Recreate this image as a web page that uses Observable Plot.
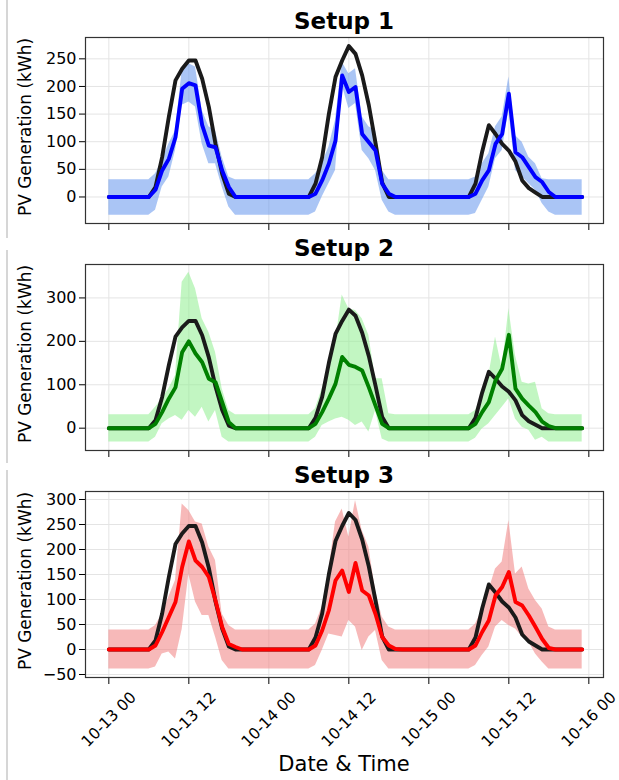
<!DOCTYPE html>
<html><head><meta charset="utf-8">
<script src="https://cdn.jsdelivr.net/npm/d3@7"></script>
<script src="https://cdn.jsdelivr.net/npm/@observablehq/plot@0.6"></script>
<style>
body{margin:0;background:#fff;}
#root{position:relative;width:619px;height:780px;overflow:hidden;font-family:"DejaVu Sans",sans-serif;background:#fff;}
.title{position:absolute;left:85px;width:518px;text-align:center;font-weight:bold;font-size:23px;line-height:23px;color:#000;}
.panel{position:absolute;left:0;}
.vline{position:absolute;left:6px;width:1.5px;background:#d6d6d6;}
.xlabel{position:absolute;left:85px;width:518px;text-align:center;font-size:21px;line-height:21px;color:#000;}
.ylabel{position:absolute;left:-75px;width:200px;height:20px;line-height:20px;text-align:center;font-size:17px;color:#000;white-space:nowrap;transform:rotate(-90deg);transform-origin:50% 50%;}
</style></head><body><div id="root"></div>
<script>
// hourly index 0..71 starting 10-13 00:00
const startDate = "2023-10-13T00:00:00Z";
const nHours = 72;

const actual = [0,0,0,0,0,0,0,18,72,145,211,232,247,247,214,163,96,42,6,0,
  0,0,0,0,0,0,0,0,0,0,0,24,72,150,217,247,273,259,220,166,98,26,0,0,
  0,0,0,0,0,0,0,0,0,0,0,24,82,130,114,96,84,64,30,16,8,0,0,0,0,0,0,0];

const pred1 = [0,0,0,0,0,0,0,13,48,69,108,196,206,202,130,93,90,48,18,0,
  0,0,0,0,0,0,0,0,0,0,0,6,30,60,102,220,190,199,114,99,84,24,6,0,
  0,0,0,0,0,0,0,0,0,0,0,6,30,48,96,114,187,81,72,54,36,27,9,0,0,0,0,0];
const hi1 = [31,31,31,31,31,31,31,42,66,96,120,229,241,235,157,127,120,72,36,31,
  31,31,31,31,31,31,31,31,31,31,31,42,60,90,139,244,223,232,145,127,120,48,31,31,
  31,31,31,31,31,31,31,31,31,31,31,36,60,78,127,145,217,111,99,72,60,33,31,31,31,31,31,31];
const lo1 = [-33,-33,-33,-33,-33,-33,-33,-24,18,36,84,166,172,163,96,60,60,18,-18,-33,
  -33,-33,-33,-33,-33,-33,-33,-33,-33,-33,-33,-27,0,24,48,202,160,169,84,69,48,-6,-27,-33,
  -33,-33,-33,-33,-33,-33,-33,-33,-33,-33,-33,-30,-6,18,69,84,157,48,36,24,12,-12,-27,-33,-33,-33,-33,-33];

const pred2 = [0,0,0,0,0,0,0,10,37,68,94,175,200,172,152,114,106,60,14,0,
  0,0,0,0,0,0,0,0,0,0,0,10,37,68,102,164,146,141,133,94,52,10,0,0,
  0,0,0,0,0,0,0,0,0,0,0,10,37,60,110,137,215,91,68,52,37,15,5,0,0,0,0,0];
const hi2 = [31,31,31,31,31,31,31,48,68,91,121,336,359,321,252,221,175,91,41,31,
  31,31,31,31,31,31,31,31,31,31,31,45,91,144,198,307,275,271,252,214,114,114,33,31,
  31,31,31,31,31,31,31,31,31,31,31,41,75,121,210,137,275,167,106,102,106,45,33,31,31,31,31,31];
const lo2 = [-32,-32,-32,-32,-32,-32,-32,-21,10,21,29,18,41,25,48,14,41,-21,-32,-32,
  -32,-32,-32,-32,-32,-32,-32,-32,-32,-32,-32,-21,6,14,21,25,18,6,14,-9,40,-25,-32,-32,
  -32,-32,-32,-32,-32,-32,-32,-32,-32,-32,-32,-23,-2,10,29,48,68,21,2,-5,-28,-21,-32,-32,-32,-32,-32,-32];

const pred3 = [0,0,0,0,0,0,0,8,35,65,95,165,216,178,165,145,98,45,11,5,
  0,0,0,0,0,0,0,0,0,0,0,8,38,78,138,158,115,173,118,108,71,25,8,1,
  0,0,0,0,0,0,0,0,0,0,0,8,35,58,108,125,155,95,88,68,45,21,3,0,0,0,0,0];
const hi3 = [39,39,39,39,39,39,39,48,71,105,138,291,278,255,251,205,178,71,48,39,
  39,39,39,39,39,39,39,39,39,39,39,51,85,158,255,281,225,298,238,205,118,65,45,39,
  39,39,39,39,39,39,39,39,39,39,39,51,78,118,161,175,258,151,165,121,98,81,45,39,39,39,39,39];
const lo3 = [-39,-39,-39,-39,-39,-39,-39,-35,-9,-5,-19,40,150,95,68,68,25,-22,-39,-39,
  -39,-39,-39,-39,-39,-39,-39,-39,-39,-39,-39,-32,-2,31,28,25,58,45,-2,25,38,-22,-39,-39,
  -39,-39,-39,-39,-39,-39,-39,-39,-39,-39,-39,-32,-12,5,45,58,48,41,25,15,-9,-25,-39,-39,-39,-39,-39,-39];

const titles = ["Setup 1", "Setup 2", "Setup 3"];
const yLabel = "PV Generation (kWh)";
const xLabel = "Date & Time";
const xTickHours = [0, 12, 24, 36, 48, 60, 72];
const yTicks1 = [0, 50, 100, 150, 200, 250];
const yTicks2 = [0, 100, 200, 300];
const yTicks3 = [-50, 0, 50, 100, 150, 200, 250, 300];

const t0 = new Date(startDate).getTime();
const toDate = h => new Date(t0 + h * 3600e3);
const fmt = d3.utcFormat("%m-%d %H");
const xTickDates = xTickHours.map(toDate);
const root = document.getElementById("root");

function panel(cfg) {
  const data = d3.range(nHours).map(i => ({
    date: toDate(i), actual: actual[i], pred: cfg.pred[i], lo: cfg.lo[i], hi: cfg.hi[i]
  }));
  const mt = 4, mb = cfg.showLabels ? 90 : 14, fh = 186;
  const chart = Plot.plot({
    width: 619, height: mt + fh + mb,
    marginLeft: 85, marginRight: 16, marginTop: mt, marginBottom: mb,
    style: {fontFamily: "DejaVu Sans", fontSize: "16px", color: "#000", background: "transparent", overflow: "visible"},
    x: {type: "utc", domain: [toDate(-3.5), toDate(74.2)]},
    y: {domain: cfg.yDomain},
    marks: [
      Plot.gridY(cfg.yTicks, {stroke: "#e4e4e4", strokeOpacity: 1, strokeWidth: 1}),
      Plot.gridX(xTickDates, {stroke: "#e4e4e4", strokeOpacity: 1, strokeWidth: 1}),
      Plot.areaY(data, {x: "date", y1: "lo", y2: "hi", fill: cfg.band, fillOpacity: 0.55}),
      Plot.lineY(data, {x: "date", y: "actual", stroke: "#1a1a1a", strokeWidth: 3.9}),
      Plot.lineY(data, {x: "date", y: "pred", stroke: cfg.color, strokeWidth: 3.9}),
      Plot.axisY(cfg.yTicks, {tickSize: 6, tickPadding: 3, fontSize: 16, label: null,
        tickFormat: d => d < 0 ? "\u2212" + Math.abs(d) : String(d)}),
      Plot.axisX(xTickDates, {tickSize: 7, tickFormat: () => "", label: null}),
      Plot.frame({stroke: "#333", strokeWidth: 1.2}),
      cfg.showLabels ? Plot.text(xTickDates, {x: d => d, text: d => fmt(d), frameAnchor: "bottom",
        dy: 42, rotate: -45, fontSize: 15.5, textAnchor: "middle", lineAnchor: "middle", fill: "#000"}) : null
    ]
  });
  chart.classList.add("panel");
  chart.style.top = (cfg.frameTop - mt) + "px";
  root.appendChild(chart);
  const t = document.createElement("div");
  t.className = "title";
  t.textContent = cfg.title;
  t.style.top = (cfg.frameTop - 27) + "px";
  root.appendChild(t);
  const yl = document.createElement("div");
  yl.className = "ylabel";
  yl.textContent = yLabel;
  yl.style.top = (cfg.frameTop + fh / 2 - 13) + "px";
  root.appendChild(yl);
}

[[0, 238], [250, 463], [470, 780]].forEach(([a, b]) => {
  const v = document.createElement("div");
  v.className = "vline"; v.style.top = a + "px"; v.style.height = (b - a) + "px";
  root.appendChild(v);
});

panel({pred: pred1, lo: lo1, hi: hi1, color: "#0000ff", band: "#6495ed", yDomain: [-48, 288.6], yTicks: yTicks1, frameTop: 37, title: titles[0]});
panel({pred: pred2, lo: lo2, hi: hi2, color: "#008000", band: "#90ee90", yDomain: [-51.4, 377], yTicks: yTicks2, frameTop: 264, title: titles[1]});
panel({pred: pred3, lo: lo3, hi: hi3, color: "#ff0000", band: "#f08080", yDomain: [-56, 316], yTicks: yTicks3, frameTop: 491, title: titles[2], showLabels: true});

const xl = document.createElement("div");
xl.className = "xlabel"; xl.textContent = xLabel; xl.style.top = "754px";
root.appendChild(xl);
</script>
</body></html>
